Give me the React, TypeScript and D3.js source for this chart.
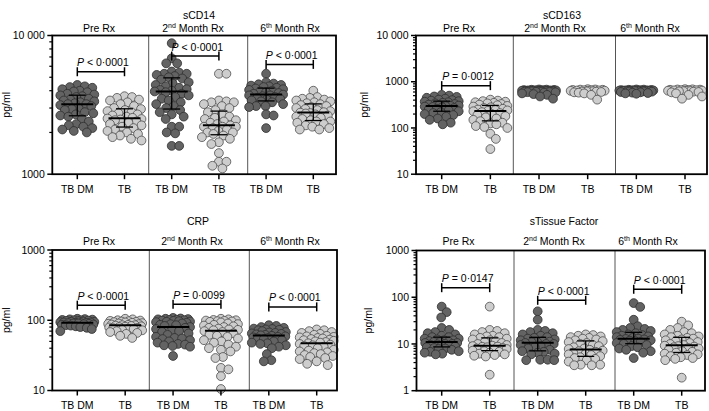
import React from "react";
import * as d3 from "d3";

const FONT = "'Liberation Sans', Arial, Helvetica, sans-serif";

const groupLabels = ["TB DM", "TB", "TB DM", "TB", "TB DM", "TB"];
const sectionLabels = [["Pre Rx", "", ""], ["2", "nd", " Month Rx"], ["6", "th", " Month Rx"]];
const panelTitles = ["sCD14", "sCD163", "CRP", "sTissue Factor"];
const yDomains = [[1000, 10000], [10, 10000], [10, 1000], [1, 1000]];

// ---- sCD14 ----
const sCD14_pre_TBDM = [4400, 4300, 4250, 4200, 4100, 4000, 3950, 3900, 3800, 3750, 3700, 3650, 3600, 3500, 3450, 3400, 3350, 3300, 3250, 3200, 3200, 3150, 3100, 3000, 2950, 2900, 2800, 2750, 2700, 2650, 2600, 2500, 2400, 2300, 2250, 2200, 2150, 2100, 2050, 2000];
const sCD14_pre_TB = [3650, 3600, 3550, 3450, 3400, 3300, 3200, 3100, 3000, 2950, 2900, 2850, 2800, 2750, 2700, 2650, 2600, 2550, 2520, 2500, 2480, 2450, 2400, 2350, 2300, 2250, 2200, 2150, 2100, 2050, 2000, 1950, 1900, 1850, 1800, 1750];
const sCD14_m2_TBDM = [8800, 6850, 6300, 6300, 5500, 5400, 5300, 5300, 5200, 5100, 5000, 4900, 4800, 4600, 4500, 4400, 4300, 4200, 4100, 4050, 4000, 3950, 3900, 3800, 3700, 3600, 3500, 3400, 3300, 3200, 3100, 3000, 2900, 2800, 2700, 2600, 2500, 2200, 2200, 2000, 1970, 1600, 1600];
const sCD14_m2_TB = [5300, 5300, 3400, 3350, 3300, 3300, 3200, 3100, 3000, 2900, 2800, 2700, 2600, 2550, 2500, 2450, 2400, 2350, 2300, 2250, 2200, 2200, 2200, 2150, 2100, 2050, 2000, 2000, 1950, 1900, 1850, 1800, 1700, 1650, 1420, 1230, 1230, 1150, 1100];
const sCD14_m6_TBDM = [5300, 4600, 4500, 4450, 4400, 4350, 4300, 4250, 4200, 4150, 4100, 4050, 4000, 3950, 3900, 3850, 3800, 3750, 3700, 3700, 3650, 3600, 3550, 3500, 3450, 3400, 3350, 3300, 3200, 3100, 3100, 3050, 2700, 2650, 2150];
const sCD14_m6_TB = [4000, 3600, 3550, 3500, 3450, 3400, 3350, 3300, 3250, 3200, 3150, 3100, 3050, 3000, 2950, 2900, 2850, 2800, 2780, 2760, 2740, 2700, 2650, 2600, 2550, 2500, 2450, 2400, 2400, 2350, 2300, 2250, 2200, 2150, 2100, 2100];

// ---- sCD163 ----
const sCD163_pre_TBDM = [520, 500, 480, 470, 450, 430, 410, 400, 390, 380, 370, 360, 350, 340, 330, 320, 310, 305, 300, 295, 290, 285, 280, 270, 260, 250, 240, 230, 220, 210, 200, 190, 175, 160, 150, 130, 120];
const sCD163_pre_TB = [410, 390, 380, 370, 360, 350, 340, 330, 320, 310, 300, 290, 280, 270, 260, 250, 245, 240, 235, 230, 220, 210, 200, 190, 180, 170, 160, 150, 140, 130, 125, 120, 110, 105, 100, 75, 58, 35];
const sCD163_m2_TBDM = [680, 675, 670, 665, 660, 660, 655, 650, 650, 648, 645, 642, 640, 638, 635, 632, 630, 628, 625, 622, 620, 618, 615, 612, 610, 605, 600, 595, 590, 580, 560, 540, 520, 480, 430];
const sCD163_m2_TB = [690, 680, 675, 670, 665, 660, 655, 650, 645, 640, 635, 630, 625, 620, 615, 610, 600, 590, 580, 560, 520, 410];
const sCD163_m6_TBDM = [680, 675, 670, 665, 660, 658, 655, 652, 650, 648, 645, 642, 640, 638, 635, 632, 630, 628, 625, 620, 615, 610, 600, 590, 580, 570, 560, 550];
const sCD163_m6_TB = [690, 685, 680, 675, 670, 665, 660, 655, 650, 645, 640, 635, 630, 625, 620, 610, 600, 590, 560, 520, 480, 430];

// ---- CRP ----
const CRP_pre_TBDM = [105, 104, 103, 102, 101, 100, 100, 99, 98, 97, 96, 95, 95, 94, 93, 93, 92, 92, 91, 91, 90, 90, 89, 88, 87, 86, 85, 84, 82, 80, 78, 75, 70];
const CRP_pre_TB = [105, 103, 100, 99, 98, 97, 96, 95, 94, 93, 92, 91, 90, 89, 88, 87, 86, 85, 85, 84, 83, 82, 81, 80, 79, 78, 77, 76, 75, 73, 72, 70, 68, 66, 64, 60, 56];
const CRP_m2_TBDM = [108, 106, 105, 104, 103, 102, 101, 100, 99, 98, 97, 96, 95, 94, 92, 90, 88, 86, 85, 83, 80, 78, 75, 72, 70, 68, 65, 62, 58, 56, 55, 54, 52, 50, 48, 46, 45, 44, 43, 42, 31];
const CRP_m2_TB = [105, 103, 101, 100, 99, 98, 97, 96, 95, 93, 90, 88, 86, 84, 82, 80, 78, 76, 74, 73, 72, 70, 68, 65, 62, 60, 58, 55, 52, 50, 48, 45, 42, 40, 38, 36, 30, 29, 21, 20, 16, 10.5];
const CRP_m6_TBDM = [85, 83, 80, 78, 76, 75, 74, 73, 72, 70, 68, 67, 66, 65, 64, 63, 62, 61, 60, 59, 58, 57, 56, 55, 54, 52, 50, 48, 47, 46, 44, 42, 40, 33, 27, 26];
const CRP_m6_TB = [74, 72, 70, 68, 66, 64, 62, 60, 59, 58, 57, 56, 55, 54, 53, 52, 51, 50, 49, 48, 47, 46, 45, 44, 43, 42, 40, 38, 37, 36, 35, 34, 33, 32, 31, 30, 29, 28, 26, 24, 23];

// ---- sTissue Factor ----
const sTF_pre_TBDM = [63, 48, 37, 22, 20, 18, 17, 16, 15, 14, 14, 13, 13, 12.5, 12, 12, 11.5, 11.2, 11, 11, 10.5, 10.5, 10, 10, 9.8, 9.5, 9.2, 9, 8.8, 8.5, 8.2, 8, 7.8, 7.5, 7, 6.8, 6.5, 6.2, 6];
const sTF_pre_TB = [63, 20, 19, 18, 17, 16, 15, 14.5, 14, 13.5, 13, 12.5, 12, 11.5, 11, 10.5, 10, 9.5, 9.2, 9, 8.8, 8.7, 8.5, 8.2, 8, 7.8, 7.5, 7.2, 7, 6.8, 6.5, 6.2, 6, 5.8, 5.6, 5.4, 2.2];
const sTF_m2_TBDM = [50, 33, 20, 19, 18, 17, 16, 15, 14, 13.5, 13, 12.5, 12, 11.5, 11.2, 11, 10.8, 10.5, 10, 10, 9.5, 9, 8.5, 8, 7.5, 7, 6.8, 6.5, 6.2, 6, 4.6, 4.6, 4.5, 4.5];
const sTF_m2_TB = [16, 15.5, 15, 14.5, 14, 13.5, 13, 12.5, 12, 11.5, 11, 10.5, 10, 9.5, 9, 8.5, 8, 7.8, 7.5, 7.2, 7, 6.8, 6.5, 6.2, 6, 5.8, 5.5, 5.2, 5, 4.8, 4.5, 4.2, 3.6, 3.6, 3.5, 3.5];
const sTF_m6_TBDM = [75, 62, 33, 24, 22, 21, 20, 19, 18, 17, 16, 15.5, 15, 14.5, 14, 13.5, 13, 12.8, 12.5, 12.2, 12, 11.8, 11.5, 11, 10.5, 10, 9.5, 9, 8.5, 8, 7.5, 7, 6.5, 5];
const sTF_m6_TB = [30, 25, 22, 20, 18, 17, 16, 15, 14.5, 14, 13.5, 13, 12.5, 12, 11.5, 11, 10.5, 10, 9.5, 9.2, 9, 8.8, 8.5, 8.2, 8, 7.5, 7, 6.8, 6.5, 6.2, 6, 5.8, 5.5, 5.2, 5, 4.8, 4.5, 1.9];

const panelData = [
  [sCD14_pre_TBDM, sCD14_pre_TB, sCD14_m2_TBDM, sCD14_m2_TB, sCD14_m6_TBDM, sCD14_m6_TB],
  [sCD163_pre_TBDM, sCD163_pre_TB, sCD163_m2_TBDM, sCD163_m2_TB, sCD163_m6_TBDM, sCD163_m6_TB],
  [CRP_pre_TBDM, CRP_pre_TB, CRP_m2_TBDM, CRP_m2_TB, CRP_m6_TBDM, CRP_m6_TB],
  [sTF_pre_TBDM, sTF_pre_TB, sTF_m2_TBDM, sTF_m2_TB, sTF_m6_TBDM, sTF_m6_TB],
];

// groups for which median/IQR is shown
const showStats = [
  [true, true, true, true, true, true],
  [true, true, false, false, false, false],
  [true, true, true, true, true, true],
  [true, true, true, true, true, true],
];
// whether the IQR bars show over the points in each panel
const iqrOnTop = [true, true, false, true];

// p-value annotations: [section, label, bracket level in pg/ml]
const pValues = [
  [[0, "< 0·0001", 5480], [1, "< 0·0001", 7110], [2, "< 0·0001", 6190]],
  [[0, "= 0·0012", 823]],
  [[0, "< 0·0001", 164], [1, "= 0·0099", 169], [2, "< 0·0001", 155]],
  [[0, "= 0·0147", 160], [1, "< 0·0001", 86], [2, "< 0·0001", 148]],
];

const layouts = [
  { x0: 52.3, x1: 336, c0: 77.3, c5: 313.3, y0: 35.5, y1: 174.2, div: [148.7, 247.7], secX: [99, 193, 290], titleX: 199, titleY: 19, secY: 31.5, labY: 193, ylabX: 9.5 },
  { x0: 416, x1: 707, c0: 441.7, c5: 685, y0: 35.5, y1: 174.2, div: [513.3, 615.5], secX: [459, 555, 650], titleX: 562, titleY: 19, secY: 31.5, labY: 193, ylabX: 368 },
  { x0: 52.3, x1: 337, c0: 77.3, c5: 316.7, y0: 250, y1: 390.5, div: [149.3, 249.3], secX: [99, 192, 290], titleX: 198, titleY: 224.5, secY: 245, labY: 409, ylabX: 9.5 },
  { x0: 416.5, x1: 705, c0: 441.7, c5: 681.7, y0: 250.5, y1: 390.7, div: [514, 615], secX: [458.5, 554, 648], titleX: 564, titleY: 224.5, secY: 245, labY: 409, ylabX: 372 },
];

const R = 4.4;
const DODGE = 7.4;
const MAXHALF = 17;

function swarm(values: number[], y: (v: number) => number) {
  const pts = values.map((v, i) => ({ v, i, y: y(v), dx: 0 }));
  const order = [...pts].sort((a, b) => a.y - b.y);
  const placed: { y: number; dx: number }[] = [];
  const cands: number[] = [0];
  for (let k = 0.5; k <= MAXHALF; k += 0.5) { cands.push(k, -k); }
  for (const p of order) {
    let best = 0, bestScore = -Infinity;
    for (const c of cands) {
      let md = Infinity;
      for (const q of placed) {
        const dy = q.y - p.y;
        if (Math.abs(dy) >= DODGE) continue;
        const d = Math.hypot(q.dx - c, dy);
        if (d < md) md = d;
      }
      if (md >= DODGE) { best = c; bestScore = Infinity; break; }
      if (md > bestScore + 0.01) { bestScore = md; best = c; }
    }
    p.dx = best;
    placed.push({ y: p.y, dx: best });
  }
  return order;
}

function fmtTick(v: number) {
  return v >= 10000 ? "10 000" : String(v);
}

function Panel({ idx }: { idx: number }) {
  const L = layouts[idx];
  const data = panelData[idx];
  const y = d3.scaleLog().domain(yDomains[idx]).range([L.y1, L.y0]);
  const x = d3.scaleLinear().domain([0, 5]).range([L.c0, L.c5]);
  const ticks = y.ticks();
  const isMajor = (t: number) => Math.abs(Math.log10(t) - Math.round(Math.log10(t))) < 1e-9;
  const midY = (L.y0 + L.y1) / 2;
  const stats = data.map((vals) => {
    const s = [...vals].sort((a, b) => a - b);
    return { med: d3.quantile(s, 0.5)!, q1: d3.quantile(s, 0.25)!, q3: d3.quantile(s, 0.75)! };
  });

  const iqr = stats.map((st, g) => {
    if (!showStats[idx][g]) return null;
    const cx = x(g);
    return (
      <g key={"iqr" + g} stroke="#000" strokeWidth={1.3}>
        <line x1={cx} x2={cx} y1={y(st.q1)} y2={y(st.q3)} />
        <line x1={cx - 8.5} x2={cx + 8.5} y1={y(st.q1)} y2={y(st.q1)} />
        <line x1={cx - 8.5} x2={cx + 8.5} y1={y(st.q3)} y2={y(st.q3)} />
      </g>
    );
  });

  return (
    <g fontFamily={FONT}>
      <text x={L.titleX} y={L.titleY} textAnchor="middle" fontSize={10.5}>{panelTitles[idx]}</text>
      {sectionLabels.map((s, i) => (
        <text key={i} x={L.secX[i]} y={L.secY} textAnchor="middle" fontSize={10.5}>
          {s[0]}
          {s[1] ? <tspan dy={-3.8} fontSize={7}>{s[1]}</tspan> : null}
          {s[1] ? <tspan dy={3.8}>{s[2]}</tspan> : null}
        </text>
      ))}
      <text transform={`translate(${L.ylabX},${midY}) rotate(-90)`} textAnchor="middle" fontSize={10.5}>pg/ml</text>

      {L.div.map((dx, i) => (
        <line key={i} x1={dx} x2={dx} y1={L.y0} y2={L.y1} stroke="#555" strokeWidth={1} />
      ))}

      {!iqrOnTop[idx] ? iqr : null}

      {data.map((vals, g) => {
        const pts = swarm(vals, (v) => y(v));
        const dark = g % 2 === 0;
        return (
          <g key={g}>
            {pts.map((p, k) => (
              <circle key={k} cx={x(g) + p.dx} cy={p.y} r={R}
                fill={dark ? "#636363" : "#cdcdcd"} stroke={dark ? "#2e2e2e" : "#4d4d4d"} strokeWidth={0.8} />
            ))}
          </g>
        );
      })}

      {iqrOnTop[idx] ? iqr : null}

      {stats.map((st, g) => {
        if (!showStats[idx][g]) return null;
        const cx = x(g);
        return (
          <line key={g} x1={cx - 16} x2={cx + 16} y1={y(st.med)} y2={y(st.med)} stroke="#000" strokeWidth={2} />
        );
      })}

      <rect x={L.x0} y={L.y0} width={L.x1 - L.x0} height={L.y1 - L.y0} fill="none" stroke="#000" strokeWidth={1.8} />

      {ticks.map((t, i) => {
        const major = isMajor(t);
        return (
          <g key={i}>
            <line x1={L.x0 - (major ? 5 : 3)} x2={L.x0} y1={y(t)} y2={y(t)} stroke="#000" strokeWidth={major ? 1.5 : 1.2} />
            {major ? (
              <text x={L.x0 - 7.5} y={y(t) + 3.7} textAnchor="end" fontSize={10.5}>{fmtTick(t)}</text>
            ) : null}
          </g>
        );
      })}

      {groupLabels.map((lab, g) => (
        <g key={g}>
          <line x1={x(g)} x2={x(g)} y1={L.y1} y2={L.y1 + 5} stroke="#000" strokeWidth={1.5} />
          <text x={x(g)} y={L.labY} textAnchor="middle" fontSize={10.5}>{lab}</text>
        </g>
      ))}

      {pValues[idx].map(([sec, label, level], i) => {
        const a = x((sec as number) * 2);
        const b = x((sec as number) * 2 + 1);
        const by = y(level as number);
        return (
          <g key={i}>
            <line x1={a} x2={b} y1={by} y2={by} stroke="#000" strokeWidth={1.5} />
            <line x1={a} x2={a} y1={by - 4.5} y2={by + 4.5} stroke="#000" strokeWidth={1.5} />
            <line x1={b} x2={b} y1={by - 4.5} y2={by + 4.5} stroke="#000" strokeWidth={1.5} />
            <text x={(a + b) / 2 + 2} y={by - 5.5} textAnchor="middle" fontSize={10.5}>
              <tspan fontStyle="italic">P</tspan>{" " + label}
            </text>
          </g>
        );
      })}
    </g>
  );
}

export default function App() {
  return (
    <svg width={709} height={411} viewBox="0 0 709 411"
      style={{ position: "absolute", left: 0, top: 0, background: "#fff", display: "block" }}>
      <rect width={709} height={411} fill="#fff" />
      {[0, 1, 2, 3].map((i) => <Panel key={i} idx={i} />)}
    </svg>
  );
}
